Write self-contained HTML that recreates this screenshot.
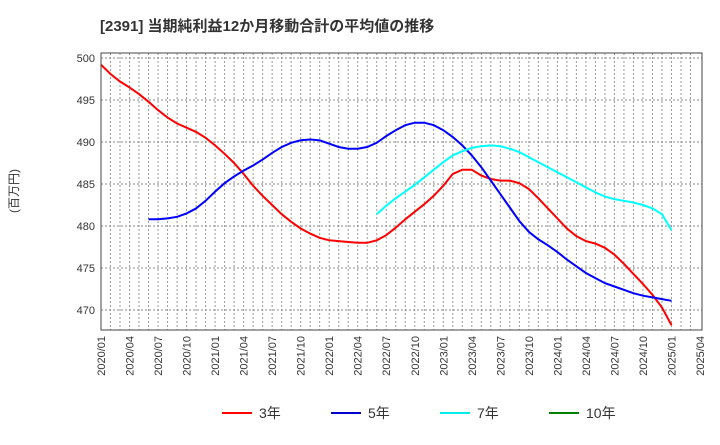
<!DOCTYPE html>
<html><head><meta charset="utf-8"><style>
body{margin:0;background:#fff;font-family:"Liberation Sans","Noto Sans CJK JP",sans-serif;}
svg text{font-family:"Liberation Sans","Noto Sans CJK JP",sans-serif;}
</style></head><body>
<svg id="c" width="720" height="440" xmlns="http://www.w3.org/2000/svg">
<text x="100" y="31" font-size="15" font-weight="bold" fill="#333">[2391]  当期純利益12か月移動合計の平均値の推移</text>
<text transform="translate(18,191) rotate(-90)" font-size="12" fill="#333" text-anchor="middle">(百万円)</text>
<g id="grid"></g><g id="series"></g><g id="axes"></g><g id="legend"></g>
</svg>
<script>
const yTicks=[470,475,480,485,490,495,500];
const xLabels=["2020/01","2020/04","2020/07","2020/10","2021/01","2021/04","2021/07","2021/10","2022/01","2022/04","2022/07","2022/10","2023/01","2023/04","2023/07","2023/10","2024/01","2024/04","2024/07","2024/10","2025/01","2025/04"];
const s3=[499.2,498.1,497.2,496.5,495.7,494.8,493.8,492.9,492.2,491.7,491.2,490.5,489.6,488.6,487.5,486.2,484.8,483.6,482.5,481.4,480.5,479.7,479.1,478.6,478.3,478.2,478.1,478.0,478.0,478.3,478.9,479.8,480.8,481.7,482.6,483.6,484.8,486.2,486.7,486.7,486.0,485.6,485.4,485.4,485.1,484.4,483.3,482.1,480.9,479.7,478.8,478.2,477.9,477.4,476.6,475.5,474.3,473.1,471.8,470.3,468.2];
const s5=[null,null,null,null,null,480.8,480.8,480.9,481.1,481.5,482.1,483.0,484.1,485.1,485.9,486.6,487.2,487.9,488.7,489.4,489.9,490.2,490.3,490.2,489.8,489.4,489.2,489.2,489.4,489.9,490.7,491.4,492.0,492.3,492.3,492.0,491.4,490.6,489.6,488.4,487.0,485.4,483.8,482.2,480.6,479.3,478.4,477.7,476.9,476.0,475.2,474.4,473.8,473.2,472.8,472.4,472.0,471.7,471.5,471.3,471.1];
const s7=[null,null,null,null,null,null,null,null,null,null,null,null,null,null,null,null,null,null,null,null,null,null,null,null,null,null,null,null,null,481.4,482.4,483.3,484.1,484.9,485.8,486.7,487.6,488.4,488.9,489.3,489.5,489.6,489.5,489.2,488.8,488.2,487.6,487.0,486.4,485.8,485.2,484.6,484.0,483.5,483.2,483.0,482.8,482.5,482.1,481.4,479.5];
const X0=101,X1=700,YT=53,YB=330;
const xs=i=>X0+(X1-X0)*i/63;
const ys=v=>58+(500-v)*8.4;
const NS="http://www.w3.org/2000/svg";
function mk(t,a,p){const e=document.createElementNS(NS,t);for(const k in a)e.setAttribute(k,a[k]);p.appendChild(e);return e;}
const g=document.getElementById('grid'),ax=document.getElementById('axes'),se=document.getElementById('series'),lg=document.getElementById('legend');
for(let i=1;i<63;i++){const l=mk('line',{x1:xs(i),x2:xs(i),y1:YT,y2:YB,stroke:'#999','stroke-dasharray':'2,2','stroke-width':1},g);

}
yTicks.forEach(v=>{const l=mk('line',{x1:X0,x2:702,y1:ys(v),y2:ys(v),stroke:'#888','stroke-dasharray':'2,2','stroke-width':1},g);


const t=mk('text',{x:X0-6,y:ys(v)+4,'font-size':11,fill:'#333','text-anchor':'end'},ax);t.textContent=v;

});
xLabels.forEach((s,k)=>{const x=xs(k*3);const t=mk('text',{transform:`translate(${x+4},336) rotate(-90)`,'font-size':11,fill:'#333','text-anchor':'end'},ax);t.textContent=s;

});
const fr=mk('rect',{x:X0,y:YT,width:702-X0,height:YB-YT,fill:'none',stroke:'#444','stroke-width':1},ax);


function line(arr,col,name){let d='';arr.forEach((v,i)=>{if(v==null)return;d+=(d?'L':'M')+xs(i).toFixed(1)+','+ys(v).toFixed(1);});
const p=mk('path',{d:d,fill:'none',stroke:col,'stroke-width':2},se);

}
line(s3,'#ff0000','series-3y');line(s5,'#0000ff','series-5y');line(s7,'#00ffff','series-7y');
const leg=[['3年','#ff0000',222],['5年','#0000cc',331],['7年','#00eeee',440],['10年','#008000',549]];
leg.forEach(([n,c,x])=>{const gg=mk('g',{},lg);


mk('line',{x1:x,x2:x+30,y1:413,y2:413,stroke:c,'stroke-width':2},gg);
const t=mk('text',{x:x+37,y:418,'font-size':14,fill:'#333'},gg);t.textContent=n;});
</script>
</body></html>
